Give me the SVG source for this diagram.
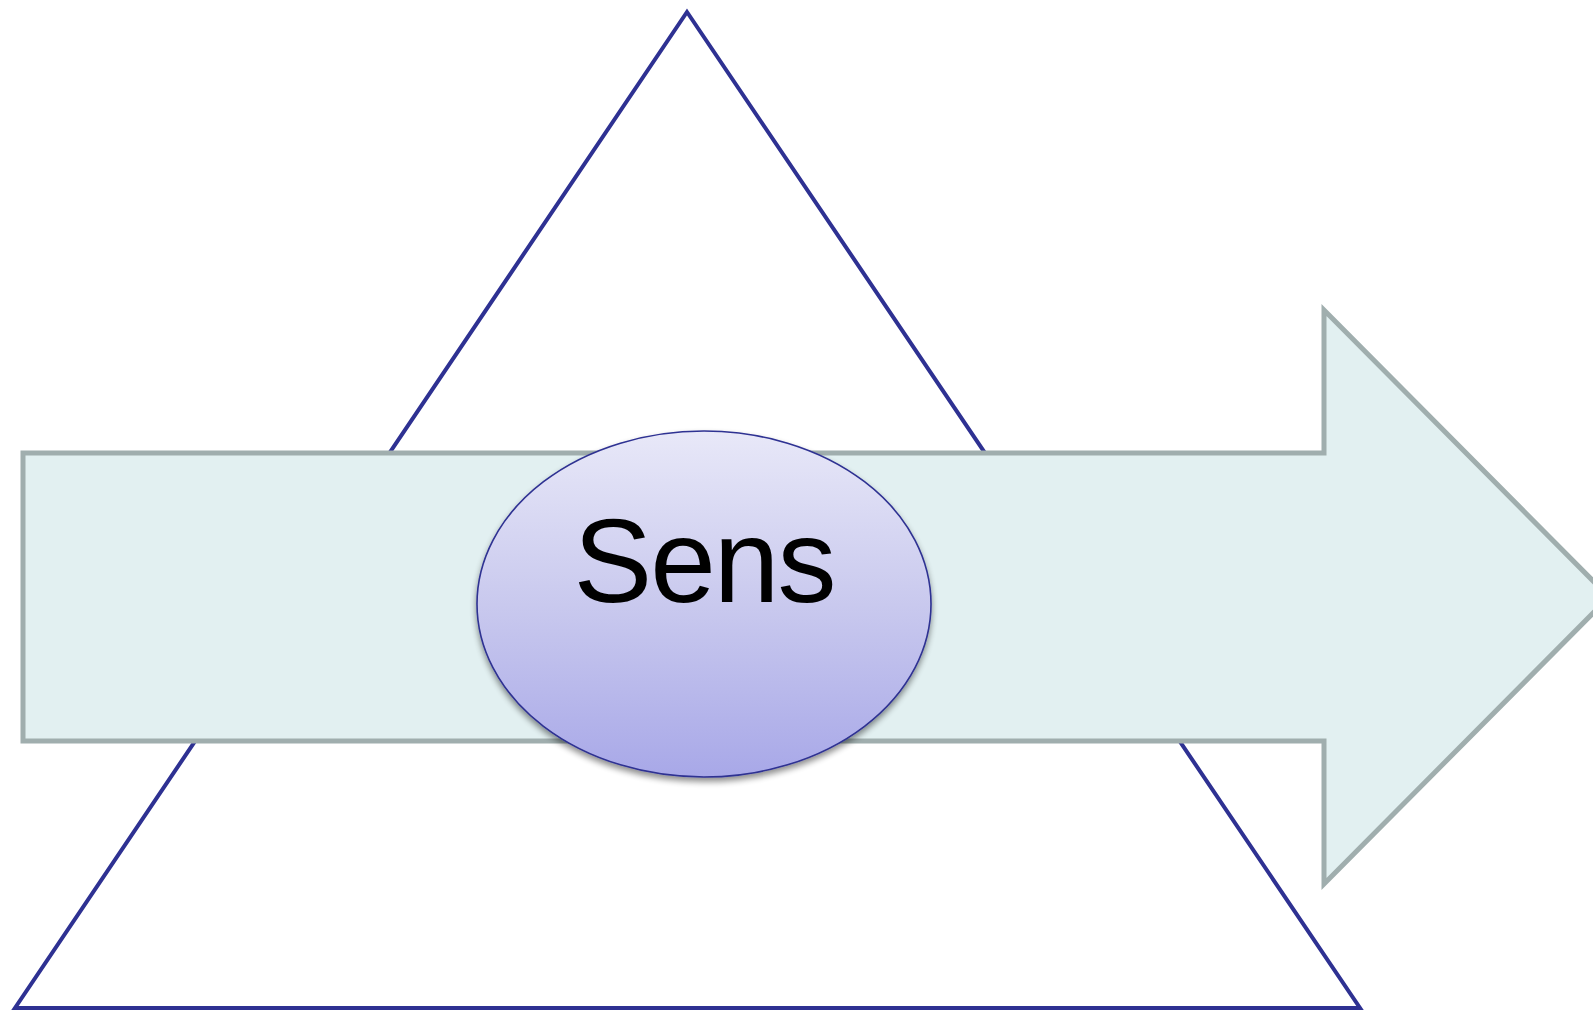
<svg xmlns="http://www.w3.org/2000/svg" width="1593" height="1010" viewBox="0 0 1593 1010">
<defs>
<linearGradient id="ellGrad" x1="0" y1="0" x2="0" y2="1">
<stop offset="0" stop-color="#e8e8f8"/>
<stop offset="0.5" stop-color="#c9c9ee"/>
<stop offset="1" stop-color="#a8a8e8"/>
</linearGradient>
<filter id="shadow" x="-10%" y="-10%" width="120%" height="130%">
<feGaussianBlur in="SourceAlpha" stdDeviation="3"/>
<feOffset dx="0" dy="4" result="b"/>
<feComponentTransfer><feFuncA type="linear" slope="0.45"/></feComponentTransfer>
<feMerge><feMergeNode/><feMergeNode in="SourceGraphic"/></feMerge>
</filter>
<style>
.tri{fill:none;stroke:#2e3192;stroke-width:4;stroke-linejoin:miter}
.arrow{fill:#e2f0f1;stroke:#a0aeae;stroke-width:5;stroke-linejoin:miter}
.ell{fill:url(#ellGrad);stroke:#2e3192;stroke-width:1.6}
.lbl{font-family:"Liberation Sans",Arial,sans-serif;font-size:118px;letter-spacing:-2px;fill:#000;text-anchor:middle}
</style>
</defs>
<rect width="1593" height="1010" fill="#ffffff"/>
<g id="triangle">
<polygon class="tri" points="687,12 1360,1008 15,1008"/>
</g>
<g id="arrow">
<polygon class="arrow" points="23,453 1324,453 1324,310 1609,597 1324,884 1324,741 23,741"/>
</g>
<g id="sens">
<ellipse class="ell" cx="704" cy="604" rx="227" ry="173" filter="url(#shadow)"/>
<text class="lbl" x="704" y="602">Sens</text>
</g>
</svg>
